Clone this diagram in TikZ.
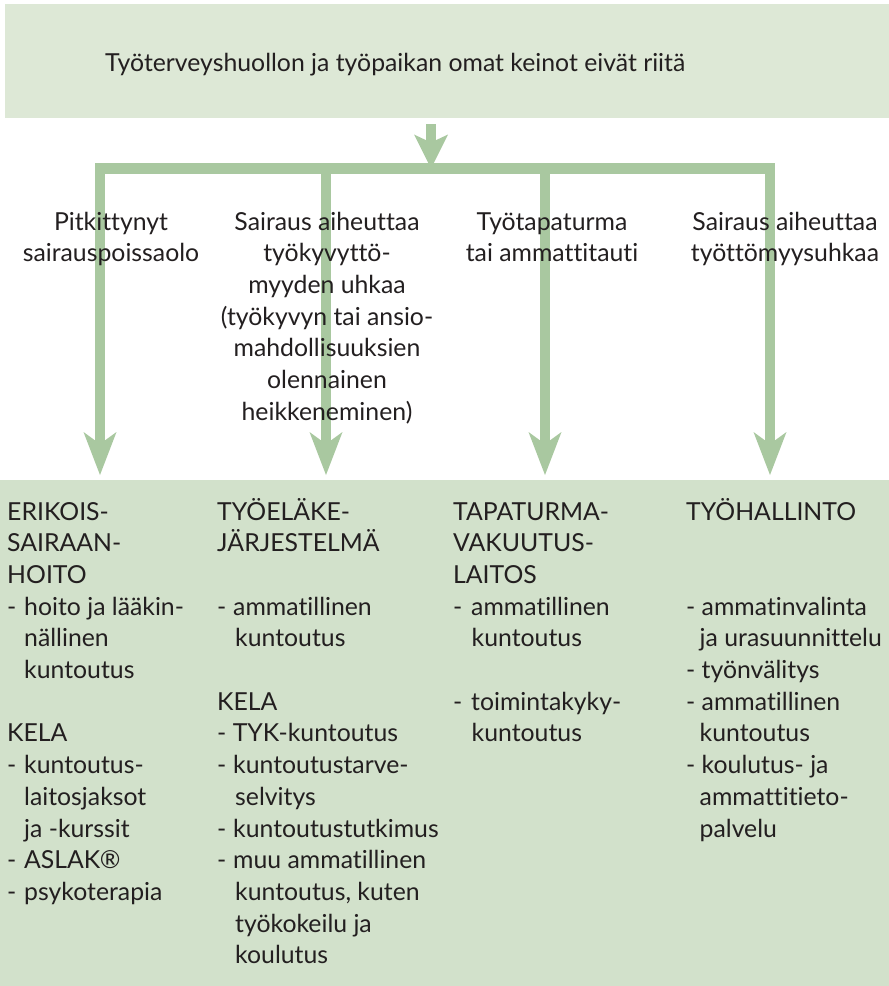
\documentclass[tikz,border=0pt]{standalone}
\usepackage{fontspec}
\setmainfont{Lato}[Ligatures={NoCommon}]
\usetikzlibrary{arrows.meta}
\definecolor{topfill}{HTML}{DDE8D6}
\definecolor{botfill}{HTML}{D2E1CB}
\definecolor{arr}{HTML}{A9C8A0}
\definecolor{ink}{HTML}{231F20}
\def\colD{\makebox[\dw][l]{-}}
\def\colI{\hspace*{\iw}}
\begin{document}
\begin{tikzpicture}[x=1pt,y=-1pt,
  txt/.style={font=\fontsize{24.8}{31.7}\selectfont, text=ink, inner sep=0pt},
  arrowline/.style={draw=arr, line width=10.5pt, line join=miter,
    -{Stealth[length=43pt,width=33pt,inset=12pt,line width=0pt]}},
  boxfill/.style={inner sep=0pt, anchor=north west}]
\useasboundingbox (0,0) rectangle (889,986);
% boxes
\node[boxfill, fill=topfill, minimum width=884pt, minimum height=114pt] (top) at (5,4) {};
\node[boxfill, fill=botfill, minimum width=889pt, minimum height=506pt] (bottom) at (0,480) {};
% connector coordinates
\coordinate (hub) at (431,168.5);
\coordinate (s1) at (100,168.5);
\coordinate (s2) at (326,168.5);
\coordinate (s3) at (545,168.5);
\coordinate (s4) at (770,168.5);
% arrows
\draw[arrowline, -{Stealth[length=34pt,width=34pt,inset=8pt,line width=0pt]}]
  ([yshift=-6pt]top.south -| hub) -- (hub);
\draw[arrowline, {Stealth[length=43pt,width=33pt,inset=12pt,line width=0pt]}-{Stealth[length=43pt,width=33pt,inset=12pt,line width=0pt]}]
  ([yshift=5pt]bottom.north -| s1) -- (s1) -- (s4) -- ([yshift=5pt]bottom.north -| s4);
\draw[arrowline] (s2) -- ([yshift=5pt]bottom.north -| s2);
\draw[arrowline] (s3) -- ([yshift=5pt]bottom.north -| s3);
% top text
\node[txt, anchor=base west] (title) at (105,71.7) {Työterveyshuollon ja työpaikan omat keinot eivät riitä};
% middle labels
\foreach \r/\t in {0/Pitkittynyt, 1/sairauspoissaolo}
  \node[txt, anchor=base] (la\r) at (111,230+\r*31.7) {\t};
\foreach \r/\t in {0/Sairaus aiheuttaa, 1/työkyvyttö-, 2/myyden uhkaa, 3/(työkyvyn tai ansio-, 4/mahdollisuuksien, 5/olennainen, 6/heikkeneminen)}
  \node[txt, anchor=base] (lb\r) at (327,230+\r*31.7) {\t};
\foreach \r/\t in {0/Työtapaturma, 1/tai ammattitauti}
  \node[txt, anchor=base] (lc\r) at (552,230+\r*31.7) {\t};
\foreach \r/\t in {0/Sairaus aiheuttaa, 1/työttömyysuhkaa}
  \node[txt, anchor=base] (ld\r) at (785,230+\r*31.7) {\t};
% column 1
\def\dw{17pt}\def\iw{17pt}
\foreach \r/\t in {0/ERIKOIS-, 1/SAIRAAN-, 2/HOITO, 3/\colD hoito ja lääkin-, 4/\colI nällinen, 5/\colI kuntoutus, 7/KELA, 8/\colD kuntoutus-, 9/\colI laitosjaksot, 10/\colI ja -kurssit, 11/\colD ASLAK®, 12/\colD psykoterapia}
  \node[txt, anchor=base west] (ca\r) at (7,520+\r*31.7) {\t};
% column 2
\def\dw{16pt}\def\iw{18pt}
\foreach \r/\t in {0/TYÖELÄKE-, 1/JÄRJESTELMÄ, 3/\colD ammatillinen, 4/\colI kuntoutus, 6/KELA, 7/- TYK-kuntoutus, 8/\colD kuntoutustarve-, 9/\colI selvitys, 10/\colD kuntoutustutkimus, 11/\colD muu ammatillinen, 12/{\colI kuntoutus, kuten}, 13/\colI työkokeilu ja, 14/\colI koulutus}
  \node[txt, anchor=base west] (cb\r) at (217,520+\r*31.7) {\t};
% column 3
\def\dw{18pt}\def\iw{18.5pt}
\foreach \r/\t in {0/TAPATURMA-, 1/VAKUUTUS-, 2/LAITOS, 3/\colD ammatillinen, 4/\colI kuntoutus, 6/\colD toimintakyky-, 7/\colI kuntoutus}
  \node[txt, anchor=base west] (cc\r) at (453,520+\r*31.7) {\t};
% column 4
\def\dw{15.5pt}\def\iw{13.5pt}
\foreach \r/\t in {0/TYÖHALLINTO, 3/\colD ammatinvalinta, 4/\colI ja urasuunnittelu, 5/\colD työnvälitys, 6/\colD ammatillinen, 7/\colI kuntoutus, 8/\colD koulutus- ja, 9/\colI ammattitieto-, 10/\colI palvelu}
  \node[txt, anchor=base west] (cd\r) at (686,520+\r*31.7) {\t};
\end{tikzpicture}
\end{document}
